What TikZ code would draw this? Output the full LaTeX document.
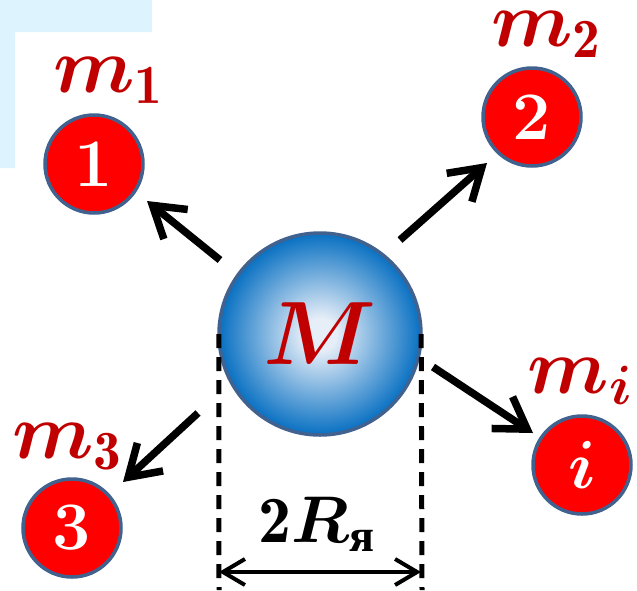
\RequirePackage{fix-cm}
\documentclass[tikz,border=0pt]{standalone}
\usepackage{amsmath}
\usepackage{fontspec}
\newfontfamily\cyrfont{Liberation Serif}
\usetikzlibrary{arrows.meta}
\definecolor{bgblue}{HTML}{DDF4FE}
\definecolor{lblred}{HTML}{C00000}
\definecolor{ballred}{HTML}{FF0000}
\definecolor{rimblue}{HTML}{41628F}
\definecolor{sphc}{HTML}{E6EEF8}
\definecolor{sphb}{HTML}{0870C2}
\pgfdeclareradialshading{sphereshade}{\pgfpoint{0bp}{0bp}}{color(0bp)=(sphc); color(4bp)=(sphc); color(25bp)=(sphb); color(50bp)=(sphb)}
\tikzset{
  ball/.style={circle, draw=rimblue, line width=3.5pt, fill=ballred, minimum size=98pt, inner sep=0pt, text=white, font=\fontsize{68}{68}\selectfont\bfseries},
  bigsphere/.style={circle, minimum size=202pt, inner sep=0pt, text=lblred, font=\fontsize{90}{90}\selectfont},
  lbl/.style={text=lblred, font=\fontsize{79}{79}\selectfont, inner sep=0pt, anchor=base},
  arr/.style={line width=7.5pt, -{Straight Barb[length=30pt,width=38pt]}},
  dimline/.style={line width=5pt, dash pattern=on 14pt off 9pt},
  dimarr/.style={line width=4pt, {Straight Barb[length=22pt,width=26pt]}-{Straight Barb[length=22pt,width=26pt]}}
}
\begin{document}
\begin{tikzpicture}[x=1pt, y=-1pt]
\useasboundingbox (0,0) rectangle (637,590);
\fill[bgblue] (0,0) -- (152,0) -- (152,32) -- (15,32) -- (15,168) -- (0,168) -- cycle;

\shade[shading=sphereshade] (320,334) circle[radius=101pt];
\draw[rimblue, line width=3.5pt] (320,334) circle[radius=101pt];
\node[bigsphere] (M) at (320,334) {$\boldsymbol{M}$};
\node[ball] (b1) at (94,164) {1};
\node[ball] (b2) at (532,117) {2};
\node[ball] (bi) at (582,465) {$\boldsymbol{i}$};
\node[ball] (b3) at (72,528) {3};

\node[lbl] (l1) at (108,92) {$\boldsymbol{m}_{\mathbf{1}}$};
\node[lbl] (l2) at (546,46) {$\boldsymbol{m}_{\mathbf{2}}$};
\node[lbl] (li) at (580,393) {$\boldsymbol{m}_{\boldsymbol{i}}$};
\node[lbl] (l3) at (67,458) {$\boldsymbol{m}_{\mathbf{3}}$};

\coordinate (t1) at (220,260); \coordinate (h1) at (147,201);
\coordinate (t2) at (400,240); \coordinate (h2) at (487,163);
\coordinate (ti) at (433,367); \coordinate (hi) at (533,433);
\coordinate (t3) at (198,413); \coordinate (h3) at (123,482);
\draw[arr] (t1) -- (h1);
\draw[arr] (t2) -- (h2);
\draw[arr] (ti) -- (hi);
\draw[arr] (t3) -- (h3);

\coordinate (dl) at (219,590); \coordinate (dr) at (422,590);
\draw[dimline] (M.west) -- (dl);
\draw[dimline] (M.east) -- (dr);
\coordinate (al) at (219,572); \coordinate (ar) at (421,572);
\draw[dimarr] (al) -- (ar);
\node[anchor=base, font=\fontsize{66}{66}\selectfont, inner sep=0pt] (dim) at (317,542) {$\mathbf{2}\boldsymbol{R}_{\text{\cyrfont\bfseries я}}$};
\end{tikzpicture}
\end{document}
